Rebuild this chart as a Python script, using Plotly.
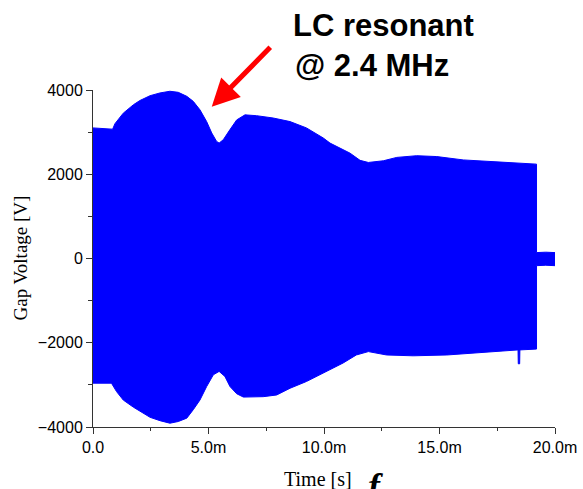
import plotly.graph_objects as go

# ---- data (time in ms, voltage in V) ----
t_upper_ms = [0.0, 0.5, 0.85, 0.95, 1.31, 1.75, 2.03, 2.47, 2.9, 3.33, 3.69, 4.06, 4.34,
              4.63, 4.92, 5.14, 5.35, 5.46, 5.64, 5.93, 6.22, 6.58, 7.08, 7.8, 8.53, 9.24,
              9.97, 10.26, 10.69, 11.13, 11.56, 11.92, 12.57, 13.15, 14.01, 14.88, 16.03,
              17.19, 18.05, 19.2, 19.2, 19.6, 20.0]
v_upper = [3100, 3090, 3070, 3200, 3450, 3650, 3750, 3865, 3930, 3970, 3945, 3850, 3730,
           3530, 3250, 2980, 2780, 2740, 2820, 3060, 3290, 3410, 3390, 3335, 3250, 3100,
           2860, 2740, 2630, 2500, 2330, 2280, 2320, 2400, 2440, 2420, 2340,
           2300, 2280, 2240, 140, 150, 140]

t_lower_ms = [0.0, 0.8, 1.02, 1.31, 1.75, 2.03, 2.47, 2.9, 3.33, 3.69, 4.06, 4.34, 4.63,
              4.92, 5.21, 5.46, 5.71, 5.93, 6.22, 6.51, 7.37, 7.95, 8.53, 9.24, 9.97, 10.26,
              10.83, 11.4, 11.92, 12.71, 13.86, 15.32, 16.75, 18.05, 18.40, 18.41, 18.47,
              18.48, 19.2, 19.2, 19.6, 20.0]
v_lower = [-2960, -2960, -3160, -3360, -3530, -3630, -3770, -3850, -3910, -3870, -3790,
           -3590, -3360, -3040, -2760, -2680, -2800, -3040, -3210, -3290, -3280, -3240,
           -3080, -2920, -2720, -2640, -2480, -2290, -2210, -2290, -2310, -2290, -2230,
           -2180, -2170, -2500, -2500, -2170, -2150, -170, -160, -170]

x_tickvals_ms = [0, 5, 10, 15, 20]
x_ticktext = ["0.0", "5.0m", "10.0m", "15.0m", "20.0m"]
x_minor_ms = [2.5, 7.5, 12.5, 17.5]
y_tickvals = [-4000, -2000, 0, 2000, 4000]
y_ticktext = ["\u22124000", "\u22122000", "0", "2000", "4000"]
y_minor = [-3000, -1000, 1000, 3000]

ms = 1e-3
BLUE = "#0000FF"
SANS = "Arial, Liberation Sans, sans-serif"
SERIF = "Times New Roman, Liberation Serif, serif"

fig = go.Figure()
fig.add_trace(go.Scatter(x=[t * ms for t in t_lower_ms], y=v_lower, mode="lines",
                         line=dict(color=BLUE, width=1), hoverinfo="skip", showlegend=False))
fig.add_trace(go.Scatter(x=[t * ms for t in t_upper_ms], y=v_upper, mode="lines",
                         line=dict(color=BLUE, width=1), fill="tonexty", fillcolor=BLUE,
                         hoverinfo="skip", showlegend=False))

axis_common = dict(showline=True, linecolor="#333", linewidth=1, ticks="outside",
                   tickcolor="#333", showgrid=False, zeroline=False, automargin=False,
                   tickfont=dict(family=SANS, size=16, color="black"))

fig.update_layout(
    width=583, height=489, autosize=False,
    margin=dict(l=93, r=28, t=90, b=62),
    plot_bgcolor="white", paper_bgcolor="white",
    showlegend=False,
    xaxis=dict(range=[0, 20 * ms], tickmode="array",
               tickvals=[v * ms for v in x_tickvals_ms], ticktext=x_ticktext, ticklen=6,
               minor=dict(tickmode="array", tickvals=[v * ms for v in x_minor_ms],
                          ticks="outside", ticklen=3, tickcolor="#333"),
               **axis_common),
    yaxis=dict(range=[-4000, 4000], tickmode="array", tickvals=y_tickvals,
               ticktext=y_ticktext, ticklen=6,
               minor=dict(tickmode="array", tickvals=y_minor, ticks="outside",
                          ticklen=4, tickcolor="#333"),
               **axis_common),
)

annotations = [
    dict(text="<b>LC resonant</b>", xref="paper", yref="paper", x=0.428, y=1.19,
         xanchor="left", yanchor="middle", showarrow=False,
         font=dict(family=SANS, size=31, color="black")),
    dict(text="<b>@ 2.4 MHz</b>", xref="paper", yref="paper", x=0.432, y=1.073,
         xanchor="left", yanchor="middle", showarrow=False,
         font=dict(family=SANS, size=31, color="black")),
    dict(text="", x=5.14 * ms, y=3600, xref="x", yref="y", showarrow=True,
         ax=60, ay=-61, axref="pixel", ayref="pixel", arrowhead=2, arrowsize=1.1,
         arrowwidth=5, arrowcolor="#FF0000", standoff=0),
    dict(text="Gap Voltage [V]", xref="paper", yref="paper", x=-0.158, y=0.5,
         xanchor="center", yanchor="middle", textangle=-90, showarrow=False,
         font=dict(family=SERIF, size=19, color="black")),
    dict(text="Time [s]", xref="paper", yref="paper", x=0.487, y=-0.154,
         xanchor="center", yanchor="middle", showarrow=False,
         font=dict(family=SERIF, size=20, color="black")),
    dict(text="<b><i>f</i></b>", xref="paper", yref="paper", x=0.59, y=-0.11,
         xanchor="left", yanchor="top", showarrow=False,
         font=dict(family=SERIF, size=36, color="black")),
]
fig.update_layout(annotations=annotations)

fig.write_html("out.html")
